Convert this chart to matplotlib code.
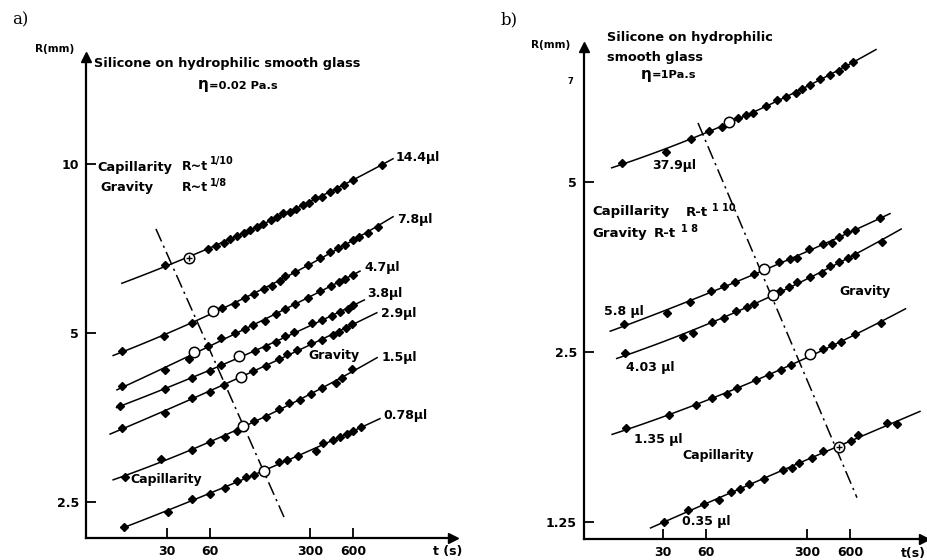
import numpy as np
import matplotlib
matplotlib.use("Agg")
import matplotlib.pyplot as plt
from matplotlib.ticker import NullLocator

plt.rcParams['font.family'] = ['DejaVu Sans']
plt.rcParams['font.weight'] = 'bold'
plt.rcParams['mathtext.default'] = 'regular'

# ---------------- Panel a data (t in s, R in mm) ----------------
a_labels = ["14.4µl", "7.8µl", "4.7µl", "3.8µl", "2.9µl", "1.5µl", "0.78µl"]
a_t_144 = [29.1, 58.1, 66.3, 75.2, 82.7, 92.6, 103, 114, 127, 141, 160, 177, 195, 217, 240, 268, 295, 324, 362, 414, 465, 515, 597, 956]
a_R_144 = [6.61, 7.06, 7.15, 7.23, 7.35, 7.44, 7.54, 7.63, 7.72, 7.82, 7.95, 8.05, 8.18, 8.21, 8.32, 8.45, 8.52, 8.70, 8.74, 8.92, 9.03, 9.18, 9.37, 9.96]
a_t_78 = [14.6, 28.6, 44.8, 72.6, 89.4, 105, 121, 142, 162, 185, 200, 235, 290, 352, 414, 472, 528, 597, 658, 762, 895]
a_R_78 = [4.64, 4.94, 5.21, 5.53, 5.63, 5.77, 5.86, 5.99, 6.06, 6.18, 6.31, 6.42, 6.61, 6.80, 6.97, 7.09, 7.18, 7.32, 7.41, 7.54, 7.72]
a_t_47 = [14.6, 29.0, 42.7, 58.1, 71.4, 89.4, 105, 119, 146, 174, 201, 234, 290, 352, 420, 479, 528, 597]
a_R_47 = [4.02, 4.30, 4.49, 4.73, 4.90, 4.99, 5.08, 5.17, 5.26, 5.40, 5.51, 5.63, 5.77, 5.95, 6.06, 6.16, 6.25, 6.33]
a_t_38 = [14.1, 29.0, 44.6, 59.7, 71.5, 123, 148.5, 174, 201, 232, 310, 366, 427, 485, 557, 597]
a_R_38 = [3.71, 3.98, 4.15, 4.28, 4.38, 4.64, 4.72, 4.82, 4.93, 5.02, 5.20, 5.28, 5.37, 5.44, 5.52, 5.60]
a_t_29 = [14.5, 29.0, 44.6, 60, 75.6, 120, 148.5, 182, 208, 244, 304, 365, 434, 479, 533, 589]
a_R_29 = [3.39, 3.60, 3.83, 3.93, 4.04, 4.28, 4.37, 4.50, 4.58, 4.66, 4.79, 4.86, 4.96, 5.02, 5.10, 5.18]
a_t_15 = [15.3, 27.3, 45.2, 60, 76.3, 92.2, 121.8, 148.5, 183, 215, 255, 307, 364, 455, 502, 589]
a_R_15 = [2.77, 2.98, 3.10, 3.20, 3.27, 3.34, 3.49, 3.54, 3.66, 3.75, 3.80, 3.89, 3.99, 4.07, 4.15, 4.32]
a_t_078 = [15.1, 30.3, 45.1, 60, 76.3, 92.2, 107, 121.8, 183, 208, 248, 330, 372, 436, 486, 542, 603, 682]
a_R_078 = [2.26, 2.40, 2.53, 2.58, 2.65, 2.72, 2.77, 2.79, 2.95, 2.97, 3.02, 3.08, 3.18, 3.23, 3.27, 3.30, 3.34, 3.40]
a_circle_t = [42.7, 63.1, 46.6, 96.3, 98.9, 102, 143.6]
a_circle_R = [6.80, 5.47, 4.63, 4.54, 4.18, 3.42, 2.84]
a_line_t0 = [14.5, 12.6, 13.4, 13.3, 12.0, 12.6, 14.8]
a_line_t1 = [1142, 1142, 671, 720, 880, 884, 926]
a_dash_t = [25.1, 197.4]
a_dash_R = [7.66, 2.35]

# ---------------- Panel b data ----------------
b_labels = ["37.9µl", "5.8 µl", "4.03 µl", "1.35 µl", "0.35 µl"]
b_t_379 = [15.6, 31.5, 46.7, 62.3, 77.1, 100.3, 113, 126.5, 156.5, 185, 214.5, 251.6, 277, 315, 369, 436, 497, 554, 626]
b_R_379 = [5.41, 5.66, 5.95, 6.15, 6.26, 6.50, 6.57, 6.63, 6.81, 6.99, 7.08, 7.19, 7.31, 7.43, 7.61, 7.75, 7.87, 8.01, 8.14]
b_t_58 = [16.1, 32.2, 46.4, 64.3, 79.0, 95.3, 128.5, 192.6, 228.6, 254.4, 311, 385.6, 445, 503, 571, 646, 964]
b_R_58 = [2.80, 2.93, 3.07, 3.20, 3.27, 3.33, 3.43, 3.61, 3.65, 3.66, 3.80, 3.88, 3.90, 4.00, 4.07, 4.11, 4.31]
b_t_403 = [16.3, 41.2, 48.1, 65.7, 79.6, 96.1, 114.4, 128.5, 193.6, 223.5, 255.6, 314.6, 379.6, 433, 503, 580.7, 646, 990.6]
b_R_403 = [2.49, 2.66, 2.70, 2.82, 2.87, 2.95, 3.00, 3.04, 3.20, 3.26, 3.33, 3.39, 3.45, 3.55, 3.61, 3.67, 3.71, 3.92]
b_t_135 = [16.7, 33.0, 50.6, 66.0, 83.1, 98.4, 132, 163, 199, 231, 387, 450, 514, 644, 976]
b_R_135 = [1.83, 1.93, 2.01, 2.07, 2.11, 2.16, 2.23, 2.28, 2.32, 2.37, 2.53, 2.57, 2.60, 2.69, 2.81]
b_t_035 = [30.5, 44.7, 57.8, 73.4, 88.6, 102.8, 118.7, 150.8, 205, 237, 264, 326.5, 389, 603.5, 681.5, 1073, 1271]
b_R_035 = [1.25, 1.31, 1.345, 1.367, 1.41, 1.43, 1.46, 1.49, 1.545, 1.56, 1.59, 1.62, 1.67, 1.74, 1.78, 1.87, 1.86]
b_circle_t = [86.2, 149.7, 172.8, 315, 500]
b_circle_R = [6.38, 3.50, 3.15, 2.48, 1.70]
b_line_t0 = [13.2, 12.9, 14.3, 13.3, 24.6]
b_line_t1 = [904, 1131, 1352, 1449, 1827]
b_dash_t = [52.5, 667]
b_dash_R = [6.36, 1.38]

x_ticks = [30, 60, 300, 600]
x_ticklabels = ["30", "60", "300", "600"]
a_yticks = [2.5, 5, 10]
a_yticklabels = ["2.5", "5", "10"]
b_yticks = [1.25, 2.5, 5]
b_yticklabels = ["1.25", "2.5", "5"]

W, H = 928, 560
fig = plt.figure(figsize=(W / 100, H / 100), dpi=100)


def P(x, y):
    return x / W, 1 - y / H


def ftext(x, y, s, size=9, ha='left', **kw):
    fig.text(*P(x, y), s, fontsize=size, ha=ha, va='center', **kw)


def setup(ax, xlim, ylim, yt, ytl):
    ax.set_xscale('log')
    ax.set_yscale('log')
    ax.set_xlim(*xlim)
    ax.set_ylim(*ylim)
    for s in ('top', 'right'):
        ax.spines[s].set_visible(False)
    for s in ('left', 'bottom'):
        ax.spines[s].set_linewidth(1.6)
    ax.set_xticks(x_ticks)
    ax.set_xticklabels(x_ticklabels)
    ax.set_yticks(yt)
    ax.set_yticklabels(ytl)
    ax.xaxis.set_minor_locator(NullLocator())
    ax.yaxis.set_minor_locator(NullLocator())
    ax.tick_params(direction='in', length=7, width=1.3, labelsize=9, pad=5)
    for lbl in ax.get_xticklabels() + ax.get_yticklabels():
        lbl.set_fontweight('bold')
    ax.patch.set_visible(False)
    ax.plot([0], [1], marker='^', color='k', ms=7, transform=ax.transAxes, clip_on=False)
    ax.plot([1], [0], marker='>', color='k', ms=7, transform=ax.transAxes, clip_on=False)


def draw_series(ax, t, R, t0, t1):
    lt, lR = np.log10(t), np.log10(R)
    c = np.polyfit(lt, lR, 2)
    tt = np.geomspace(t0, t1, 120)
    ax.plot(tt, 10 ** np.polyval(c, np.log10(tt)), color='k', lw=1.1)
    ax.plot(t, R, 'D', color='k', ms=3.8, mec='k')


dashdot = (0, (9, 3, 1.5, 3))

# ---------------- Panel a ----------------
axA = fig.add_axes([86 / W, 22 / H, 367 / W, 481 / H])
setup(axA, (8.14, 3000), (2.157, 15.5), a_yticks, a_yticklabels)
a_series = [(a_t_144, a_R_144), (a_t_78, a_R_78), (a_t_47, a_R_47), (a_t_38, a_R_38),
            (a_t_29, a_R_29), (a_t_15, a_R_15), (a_t_078, a_R_078)]
for i, (t, R) in enumerate(a_series):
    draw_series(axA, t + [a_circle_t[i]], R + [a_circle_R[i]], a_line_t0[i], a_line_t1[i])
axA.plot(a_circle_t, a_circle_R, 'o', mfc='white', mec='k', ms=7.5, mew=1.1, zorder=4)
axA.plot(a_circle_t[:1], a_circle_R[:1], '+', color='k', ms=5, mew=1, zorder=5)
axA.plot(a_dash_t, a_dash_R, color='k', lw=1.1, linestyle=dashdot)

# ---------------- Panel b ----------------
axB = fig.add_axes([584 / W, 21 / H, 340 / W, 492 / H])
setup(axB, (8.48, 1948), (1.166, 8.67), b_yticks, b_yticklabels)
b_series = [(b_t_379, b_R_379), (b_t_58, b_R_58), (b_t_403, b_R_403),
            (b_t_135, b_R_135), (b_t_035, b_R_035)]
for i, (t, R) in enumerate(b_series):
    draw_series(axB, t + [b_circle_t[i]], R + [b_circle_R[i]], b_line_t0[i], b_line_t1[i])
axB.plot(b_circle_t, b_circle_R, 'o', mfc='white', mec='k', ms=7.5, mew=1.1, zorder=4)
axB.plot(b_circle_t[-1:], b_circle_R[-1:], '+', color='k', ms=5, mew=1, zorder=5)
axB.plot(b_dash_t, b_dash_R, color='k', lw=1.1, linestyle=dashdot)

# ---------------- Texts panel a ----------------
ftext(12, 20, "a)", size=12, family='DejaVu Serif', fontweight='normal')
ftext(35, 49, "R(mm)", size=7.5)
ftext(94, 63, "Silicone on hydrophilic smooth glass", size=9.3)
ftext(198, 85, "η", size=11)
ftext(209, 86, "=0.02 Pa.s", size=8.2)
ftext(97, 167, "Capillarity", size=9.3)
ftext(182, 167, "R~t", size=9)
ftext(210, 161, "1/10", size=7)
ftext(100, 188, "Gravity", size=9.3)
ftext(182, 188, "R~t", size=9)
ftext(210, 183, "1/8", size=7)
a_label_xy = [(396, 157), (397, 220), (364, 267), (367, 294), (381, 314), (382, 358), (383, 415)]
for (x, y), s in zip(a_label_xy, a_labels):
    ftext(x, y, s, size=9)
ftext(308, 355, "Gravity", size=9)
ftext(130, 480, "Capillarity", size=9)
ftext(433, 552, "t (s)", size=9)

# ---------------- Texts panel b ----------------
ftext(501, 20, "b)", size=12, family='DejaVu Serif', fontweight='normal')
ftext(531, 45, "R(mm)", size=7.5)
ftext(607, 37, "Silicone on hydrophilic", size=9.3)
ftext(607, 57, "smooth glass", size=9.3)
ftext(641, 74, "η", size=11)
ftext(652, 75, "=1Pa.s", size=8.2)
ftext(568, 82, "7", size=6)
ftext(592, 212, "Capillarity", size=9.5)
ftext(686, 212, "R-t", size=9.5)
ftext(712, 208, "1 10", size=7)
ftext(592, 233, "Gravity", size=9.5)
ftext(654, 233, "R-t", size=9.5)
ftext(681, 229, "1 8", size=7)
b_label_xy = [(652, 165), (604, 312), (626, 367), (634, 440), (682, 522)]
for (x, y), s in zip(b_label_xy, b_labels):
    ftext(x, y, s, size=9)
ftext(839, 291, "Gravity", size=9)
ftext(682, 456, "Capillarity", size=9)
ftext(901, 553, "t(s)", size=9)

fig.savefig("out.png", dpi=100)
